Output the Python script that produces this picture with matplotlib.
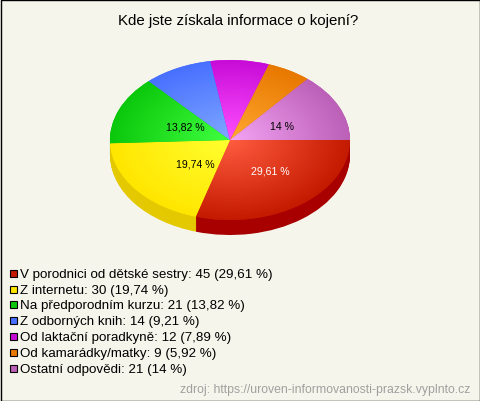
#!/usr/bin/env python

"""
Pie chart with fake 3D depth: Kde jste ziskala informace o kojeni?
"""

import numpy as np
import matplotlib
matplotlib.use("Agg")
import matplotlib.pyplot as plt
from matplotlib.colors import LinearSegmentedColormap
from matplotlib.patches import Rectangle

plt.rcParams['font.family'] = ['Liberation Sans', 'DejaVu Sans']

TITLE = "Kde jste získala informace o kojení?"
SOURCE = "zdroj: https://uroven-informovanosti-prazsk.vyplnto.cz"
CATEGORIES = [
    "V porodnici od dětské sestry",
    "Z internetu",
    "Na předporodním kurzu",
    "Z odborných knih",
    "Od laktační poradkyně",
    "Od kamarádky/matky",
    "Ostatní odpovědi",
]
VALUES = [45, 30, 21, 14, 12, 9, 21]
PERCENTS = ["29,61", "19,74", "13,82", "9,21", "7,89", "5,92", "14"]

# slice colours: edge of the pie, centre of the pie, side wall
EDGE_COLORS = ["#c41a00", "#ffe600", "#0cc80c", "#4870ff", "#c80cd8", "#e87800", "#bc60b8"]
CENTER_COLORS = ["#ff5c40", "#ffff30", "#40ff40", "#80a8ff", "#ff50ff", "#ffa830", "#f4a4f4"]
WALL_COLORS = ["#a80000", "#e4c800", "#0a9a0a", "#3858c8", "#a00aac", "#b86000", "#964c92"]

BACKGROUND = "#f5f5ec"
W, H = 480, 402
CX, CY, RX, RY, DEPTH = 230, 141, 120, 80, 15  # pie geometry in pixels

# where the percent labels sit, by slice index, in pixels
LABEL_POS = {0: (270, 172, "white"), 1: (195, 165, "black"),
             2: (185, 128, "black"), 6: (282, 127, "black")}
LEGEND_Y = [275, 291, 306.5, 322.5, 338.5, 354.5, 370.5]

fig = plt.figure(figsize=(W / 100, H / 100), dpi=100, facecolor=BACKGROUND)

# full size overlay working in pixels
bg = fig.add_axes([0, 0, 1, 1])
bg.set_xlim(0, W)
bg.set_ylim(H, 0)
bg.axis("off")
bg.add_patch(Rectangle((0.5, 0.5), W - 1, H - 1, fc=BACKGROUND, ec="black", lw=1.0))

# pie axes covers the ellipse box plus the depth, aspect auto makes it an ellipse
ax = fig.add_axes([(CX - RX) / W, 1 - (CY + RY + DEPTH) / H,
                   2 * RX / W, (2 * RY + DEPTH) / H])
ax.patch.set_alpha(0)

for shift in np.arange(DEPTH, 0, -1.0):
    ax.pie(VALUES, colors=WALL_COLORS, startangle=0, counterclock=False,
           center=(0, -shift / RY), radius=1.0, frame=True)

wedges, _ = ax.pie(VALUES, colors=EDGE_COLORS, startangle=0, counterclock=False,
                   center=(0, 0), radius=1.0, frame=True)

# radial shading, clipped to every wedge
yy, xx = np.mgrid[-1:1:300j, -1:1:300j]
rr = np.sqrt(xx ** 2 + yy ** 2)
for wedge, edge, center in zip(wedges, EDGE_COLORS, CENTER_COLORS):
    cmap = LinearSegmentedColormap.from_list("slice", [center, edge])
    im = ax.imshow(rr, cmap=cmap, vmin=0, vmax=1, extent=(-1, 1, -1, 1),
                   origin="lower", aspect="auto", zorder=3)
    im.set_clip_path(wedge)

ax.set_aspect("auto")
ax.set_xlim(-1, 1)
ax.set_ylim(-1 - DEPTH / RY, 1)
ax.axis("off")

# texts go on an axes above the pie
top = fig.add_axes([0, 0, 1, 1])
top.set_xlim(0, W)
top.set_ylim(H, 0)
top.axis("off")
top.patch.set_alpha(0)

top.text(238.5, 21, TITLE, fontsize=10.8, ha="center", va="center", color="black")

for idx, (x, y, color) in LABEL_POS.items():
    top.text(x, y, PERCENTS[idx] + " %", fontsize=7.6, ha="center", va="center", color=color)

for name, value, pct, color, y in zip(CATEGORIES, VALUES, PERCENTS, EDGE_COLORS, LEGEND_Y):
    top.add_patch(Rectangle((9.5, y - 4.5), 7, 7, fc=color, ec="black", lw=0.8))
    top.text(20, y, "{}: {} ({} %)".format(name, value, pct), fontsize=9.67,
             ha="left", va="center", color="black")

top.text(470, 390, SOURCE, fontsize=8.8, ha="right", va="center", color="#a0a0a0")

fig.savefig("out.png", dpi=100, facecolor=BACKGROUND)
